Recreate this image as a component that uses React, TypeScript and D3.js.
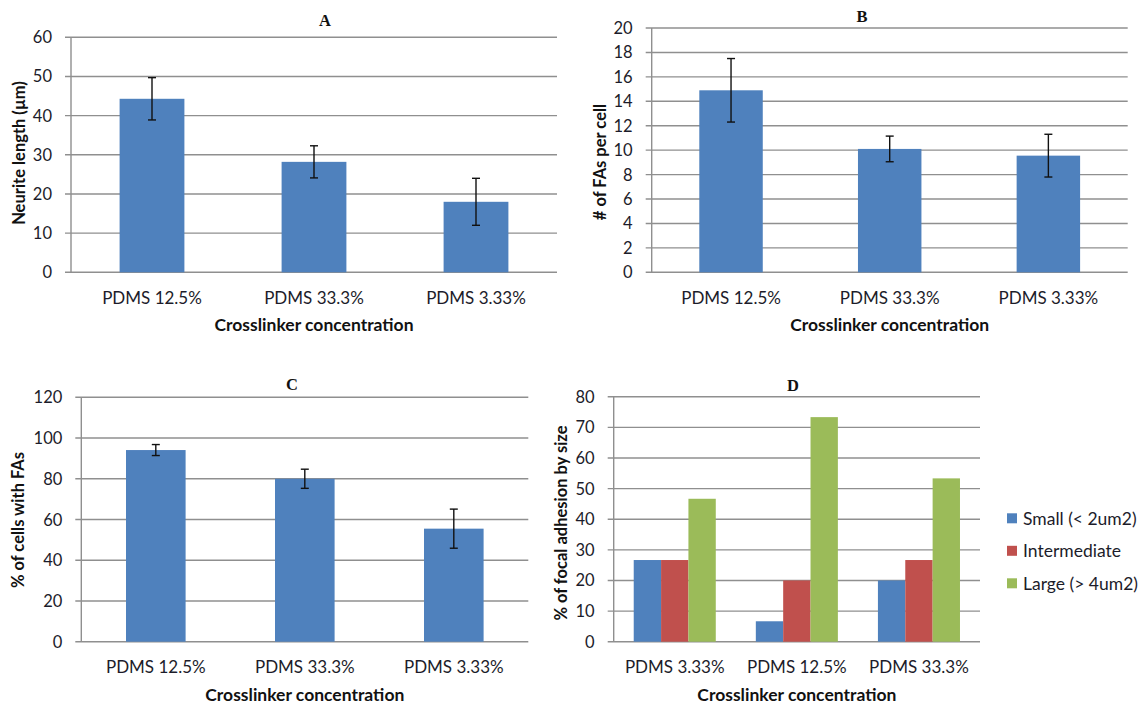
import React from "react";
import * as d3 from "d3";

// Categories
const substratesABC = ["PDMS 12.5%", "PDMS 33.3%", "PDMS 3.33%"];
const substratesD = ["PDMS 3.33%", "PDMS 12.5%", "PDMS 33.3%"];

// A: neurite length (µm)
const neuriteLength = [44.3, 28.2, 18.0];
const neuriteLengthErr = [5.4, 4.1, 6.0];
const ticksA = [0, 10, 20, 30, 40, 50, 60];

// B: focal adhesions per cell
const fasPerCell = [14.9, 10.1, 9.55];
const fasPerCellErr = [2.6, 1.05, 1.75];
const ticksB = [0, 2, 4, 6, 8, 10, 12, 14, 16, 18, 20];

// C: % of cells with FAs
const cellsWithFAs = [94.1, 80.0, 55.5];
const cellsWithFAsErr = [2.7, 4.7, 9.6];
const ticksC = [0, 20, 40, 60, 80, 100, 120];

// D: focal adhesion size distribution
const sizeSeries = ["Small (< 2um2)", "Intermediate", "Large (> 4um2)"];
const smallFA = [26.67, 6.67, 20.0];
const intermediateFA = [26.67, 20.0, 26.67];
const largeFA = [46.67, 73.33, 53.33];
const ticksD = [0, 10, 20, 30, 40, 50, 60, 70, 80];

const BLUE = "#4F81BD";
const RED = "#C0504D";
const GREEN = "#9BBB59";
const GRID = "#8f8f8f";
const TEXT = "#1c1c2a";
const SANS = "Lato, 'Open Sans', sans-serif";
const SERIF = "'Liberation Serif', 'Times New Roman', serif";

type Frame = { left: number; top: number; right: number; bottom: number };

type PanelProps = {
  frame: Frame;
  title: string;
  titleX: number;
  titleY: number;
  yTitle: string;
  yTitleX: number;
  yTitleY: number;
  ticks: number[];
  categories: string[];
  series: number[][];
  colors: string[];
  errors?: number[];
  paddingInner: number;
  paddingOuter: number;
};

function Panel(p: PanelProps) {
  const { frame } = p;
  const yMax = p.ticks[p.ticks.length - 1];
  const y = d3.scaleLinear().domain([0, yMax]).range([frame.bottom, frame.top]);
  const x = d3
    .scaleBand<string>()
    .domain(p.categories)
    .range([frame.left, frame.right])
    .paddingInner(p.paddingInner)
    .paddingOuter(p.paddingOuter);
  const inner = d3
    .scaleBand<number>()
    .domain(d3.range(p.series.length))
    .range([0, x.bandwidth()])
    .padding(0);
  const outer = d3.scaleBand<string>().domain(p.categories).range([frame.left, frame.right]);
  const cx = (c: string) => (outer(c) as number) + outer.bandwidth() / 2;

  return (
    <g>
      <text
        x={p.titleX}
        y={p.titleY}
        textAnchor="middle"
        dominantBaseline="central"
        fontFamily={SERIF}
        fontWeight="bold"
        fontSize={16.5}
        fill="#111"
      >
        {p.title}
      </text>

      {/* gridlines, tick marks and tick labels */}
      {p.ticks.map((t) => (
        <g key={t}>
          <line
            x1={frame.left - 6}
            x2={frame.right}
            y1={y(t)}
            y2={y(t)}
            stroke={GRID}
            strokeWidth={1.4}
          />
          <text
            x={frame.left - 19}
            y={y(t)}
            textAnchor="end"
            dominantBaseline="central"
            fontFamily={SANS}
            fontSize={16.5}
            fill={TEXT}
          >
            {t}
          </text>
        </g>
      ))}
      <line
        x1={frame.left}
        x2={frame.left}
        y1={frame.top}
        y2={frame.bottom}
        stroke={GRID}
        strokeWidth={1.4}
      />

      {/* bars */}
      {p.series.map((vals, si) =>
        p.categories.map((c, ci) => {
          const bx = (x(c) as number) + (inner(si) as number);
          const by = y(vals[ci]);
          return (
            <rect
              key={`${si}-${ci}`}
              x={bx}
              y={by}
              width={inner.bandwidth()}
              height={frame.bottom - by}
              fill={p.colors[si]}
            />
          );
        })
      )}

      {/* error bars */}
      {p.errors &&
        p.categories.map((c, ci) => {
          const v = p.series[0][ci];
          const e = p.errors![ci];
          const mx = (x(c) as number) + x.bandwidth() / 2;
          return (
            <g key={`err-${ci}`} stroke="#111" strokeWidth={1.4}>
              <line x1={mx} x2={mx} y1={y(v + e)} y2={y(v - e)} />
              <line x1={mx - 4} x2={mx + 4} y1={y(v + e)} y2={y(v + e)} />
              <line x1={mx - 4} x2={mx + 4} y1={y(v - e)} y2={y(v - e)} />
            </g>
          );
        })}

      {/* category labels */}
      {p.categories.map((c) => (
        <text
          key={c}
          x={cx(c)}
          y={frame.bottom + 25}
          textAnchor="middle"
          dominantBaseline="central"
          fontFamily={SANS}
          fontSize={17}
          fill={TEXT}
        >
          {c}
        </text>
      ))}

      <text
        x={(frame.left + frame.right) / 2}
        y={frame.bottom + 52.5}
        textAnchor="middle"
        dominantBaseline="central"
        fontFamily={SANS}
        fontWeight="bold"
        fontSize={17.5}
        fill="#111"
      >
        Crosslinker concentration
      </text>

      <text
        transform={`translate(${p.yTitleX},${p.yTitleY}) rotate(-90)`}
        textAnchor="middle"
        dominantBaseline="central"
        fontFamily={SANS}
        fontWeight="bold"
        fontSize={16.5}
        fill="#111"
      >
        {p.yTitle}
      </text>
    </g>
  );
}

export default function App() {
  const legendColors = [BLUE, RED, GREEN];
  return (
    <svg
      width={1148}
      height={705}
      style={{ position: "absolute", left: 0, top: 0, background: "#fff" }}
    >
      <rect width={1148} height={705} fill="#fff" />
      <Panel
        frame={{ left: 71, top: 37.3, right: 557, bottom: 272.3 }}
        title="A"
        titleX={325}
        titleY={20}
        yTitle="Neurite length (µm)"
        yTitleX={18.5}
        yTitleY={153}
        ticks={ticksA}
        categories={substratesABC}
        series={[neuriteLength]}
        colors={[BLUE]}
        errors={neuriteLengthErr}
        paddingInner={0.6}
        paddingOuter={0.3}
      />
      <Panel
        frame={{ left: 651.7, top: 28, right: 1127.7, bottom: 272.3 }}
        title="B"
        titleX={862}
        titleY={16.5}
        yTitle="# of FAs per cell"
        yTitleX={600}
        yTitleY={162}
        ticks={ticksB}
        categories={substratesABC}
        series={[fasPerCell]}
        colors={[BLUE]}
        errors={fasPerCellErr}
        paddingInner={0.6}
        paddingOuter={0.3}
      />
      <Panel
        frame={{ left: 81.3, top: 397.3, right: 528.3, bottom: 641.7 }}
        title="C"
        titleX={292}
        titleY={384}
        yTitle="% of cells with FAs"
        yTitleX={18}
        yTitleY={520}
        ticks={ticksC}
        categories={substratesABC}
        series={[cellsWithFAs]}
        colors={[BLUE]}
        errors={cellsWithFAsErr}
        paddingInner={0.6}
        paddingOuter={0.3}
      />
      <Panel
        frame={{ left: 613.7, top: 396.7, right: 980, bottom: 641.7 }}
        title="D"
        titleX={793}
        titleY={385}
        yTitle="% of focal adhesion by size"
        yTitleX={561}
        yTitleY={523}
        ticks={ticksD}
        categories={substratesD}
        series={[smallFA, intermediateFA, largeFA]}
        colors={legendColors}
        paddingInner={0.328}
        paddingOuter={0.164}
      />

      {/* legend for D */}
      {sizeSeries.map((s, i) => (
        <g key={s} transform={`translate(1007,${518.3 + i * 32.5})`}>
          <rect x={0} y={-5} width={10} height={10} fill={legendColors[i]} />
          <text
            x={16}
            y={0}
            dominantBaseline="central"
            fontFamily={SANS}
            fontSize={17.5}
            fill={TEXT}
          >
            {s}
          </text>
        </g>
      ))}
    </svg>
  );
}
